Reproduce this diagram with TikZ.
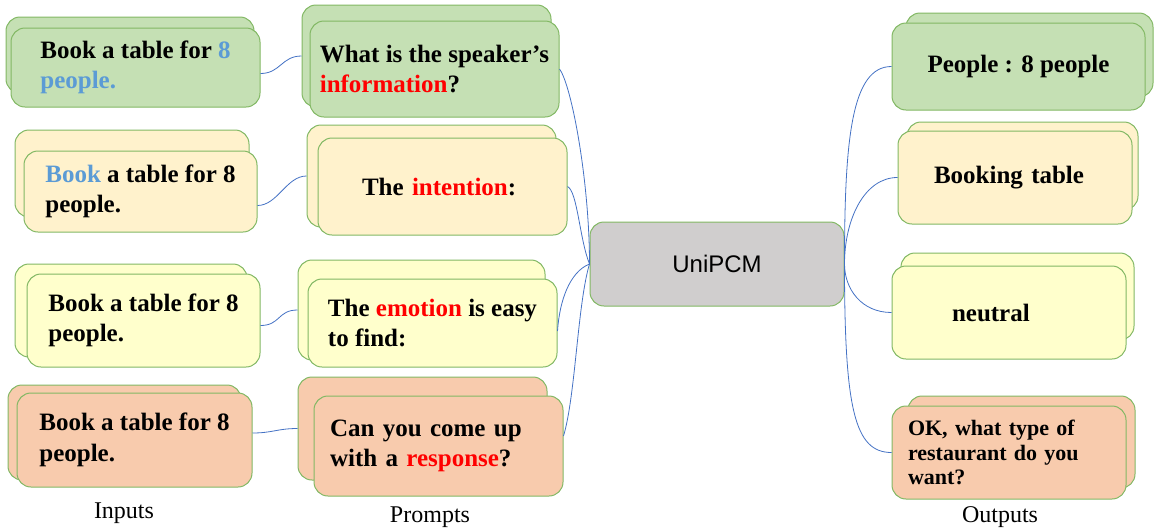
\documentclass[tikz,border=0pt]{standalone}
\usepackage{fontspec}
\setmainfont{Liberation Serif}
\newfontfamily\modelfont{Liberation Sans}
\definecolor{greenfill}{HTML}{C5E0B4}
\definecolor{tanfill}{HTML}{FFF2CC}
\definecolor{lemonfill}{HTML}{FFFFCC}
\definecolor{peachfill}{HTML}{F8CBAD}
\definecolor{greyfill}{HTML}{D0CECE}
\definecolor{cardline}{HTML}{82B864}
\definecolor{linkblue}{HTML}{4472C4}
\definecolor{wordblue}{HTML}{5B9BD5}
\definecolor{wordred}{HTML}{FF0000}
\begin{document}
\begin{tikzpicture}[x=1pt,y=-1pt,
  card/.style={draw=cardline, line width=1pt, rounded corners=14pt, inner sep=0pt, align=left,
    font=\fontsize{25}{30.5}\selectfont\bfseries},
  link/.style={draw=linkblue, line width=0.8pt},
  caption/.style={font=\fontsize{24}{28}\selectfont}]
\useasboundingbox (0,0) rectangle (1154,531);
\node [card, fill=greenfill, minimum width=248pt, minimum height=76pt] (in1b) at (130,55) {};
\node [card, fill=greenfill, minimum width=249pt, minimum height=79pt] (in1) at (135.5,67.5) {Book a table for \textcolor{wordblue}{8}\\\textcolor{wordblue}{people.}};
\node [card, fill=tanfill, minimum width=234pt, minimum height=87pt] (in2b) at (132,173.5) {};
\node [card, fill=tanfill, minimum width=233pt, minimum height=81pt] (in2) at (140.5,191.5) {\textcolor{wordblue}{Book} a table for 8\\people.};
\node [card, fill=lemonfill, minimum width=232pt, minimum height=93pt] (in3b) at (131,310.5) {};
\node [card, fill=lemonfill, minimum width=233pt, minimum height=93pt] (in3) at (143.5,320.5) {Book a table for 8\\people.};
\node [card, fill=peachfill, minimum width=233pt, minimum height=95pt] (in4b) at (124.5,432.5) {};
\node [card, fill=peachfill, minimum width=235pt, minimum height=94pt] (in4) at (134.5,440) {Book a table for 8\\people.};
\node [card, fill=greenfill, minimum width=249pt, minimum height=102pt] (pr1b) at (426.5,56) {};
\node [card, fill=greenfill, minimum width=249pt, minimum height=96pt] (pr1) at (434.5,69) {What is the speaker’s\\\textcolor{wordred}{information}?};
\node [card, fill=tanfill, minimum width=249pt, minimum height=102pt] (pr2b) at (431.5,176) {};
\node [card, fill=tanfill, minimum width=249pt, minimum height=97pt, text width=161pt] (pr2) at (442.5,186.5) {The \textcolor{wordred}{intention}:};
\node [card, fill=lemonfill, minimum width=247pt, minimum height=100pt] (pr3b) at (421.5,310) {};
\node [card, fill=lemonfill, minimum width=249pt, minimum height=88pt] (pr3) at (432.5,323) {The \textcolor{wordred}{emotion} is easy\\to find:};
\node [card, fill=peachfill, minimum width=249pt, minimum height=103pt] (pr4b) at (422.5,428.5) {};
\node [card, fill=peachfill, minimum width=249pt, minimum height=100pt, text width=217pt] (pr4) at (438.5,446) {Can you come up\\with a \textcolor{wordred}{response}?};
\node [card, fill=greyfill, minimum width=254pt, minimum height=84pt, font=\modelfont\fontsize{24}{28}\selectfont] (unipcm) at (717,264) {UniPCM};
\node [card, fill=greenfill, minimum width=247pt, minimum height=84pt] (out1b) at (1029.5,55) {};
\node [card, fill=greenfill, minimum width=253pt, minimum height=87pt] (out1) at (1018.5,66.5) {People : 8 people};
\node [card, fill=tanfill, minimum width=231pt, minimum height=88pt] (out2b) at (1022.5,166) {};
\node [card, fill=tanfill, minimum width=234pt, minimum height=93pt, text width=162pt] (out2) at (1015,177.5) {Booking table};
\node [card, fill=lemonfill, minimum width=233pt, minimum height=87pt] (out3b) at (1017.5,296.5) {};
\node [card, fill=lemonfill, minimum width=234pt, minimum height=93pt, text width=114pt] (out3) at (1009,312.5) {neutral};
\node [card, fill=peachfill, minimum width=227pt, minimum height=92pt] (out4b) at (1021.5,442) {};
\node [card, fill=peachfill, minimum width=234pt, minimum height=93pt, text width=202pt, font=\fontsize{22}{24.5}\selectfont\bfseries] (out4) at (1009,452.5) {OK, what type of\\restaurant do you\\want?};
\draw [link] ([yshift=-6pt]in1.east) .. controls +(20,0) and +(-20,0) .. (pr1b.west);
\draw [link] ([yshift=-14pt]in2.east) .. controls +(20,0) and +(-20,0) .. (pr2b.west);
\draw [link] ([yshift=-5pt]in3.east) .. controls +(20,0) and +(-20,0) .. (pr3b.west);
\draw [link] ([yshift=7pt]in4.east) .. controls +(20,0) and +(-20,0) .. (pr4b.west);
\draw [link] (pr1.east) .. controls +(12,16) and +(0,-83) .. (unipcm.west);
\draw [link] (pr2.east) .. controls +(10,5) and +(-10,-25) .. (unipcm.west);
\draw [link] ([yshift=-8pt]pr3.east) .. controls +(2,-30) and +(-20,8) .. (unipcm.west);
\draw [link] ([yshift=10pt]pr4.east) .. controls +(12,-40) and +(-12,40) .. (unipcm.west);
\draw [link] (unipcm.east) .. controls +(0,-125) and +(-40,0) .. (out1.west);
\draw [link] (unipcm.east) .. controls +(0,-45) and +(-33,0) .. (out2.west);
\draw [link] (unipcm.east) .. controls +(0,25) and +(-30,0) .. (out3.west);
\draw [link] (unipcm.east) .. controls +(0,145) and +(-37,0) .. (out4.west);
\node [caption] (inputs) at (124,513) {Inputs};
\node [caption] (prompts) at (430,517) {Prompts};
\node [caption] (outputs) at (1000,517) {Outputs};
\end{tikzpicture}
\end{document}
